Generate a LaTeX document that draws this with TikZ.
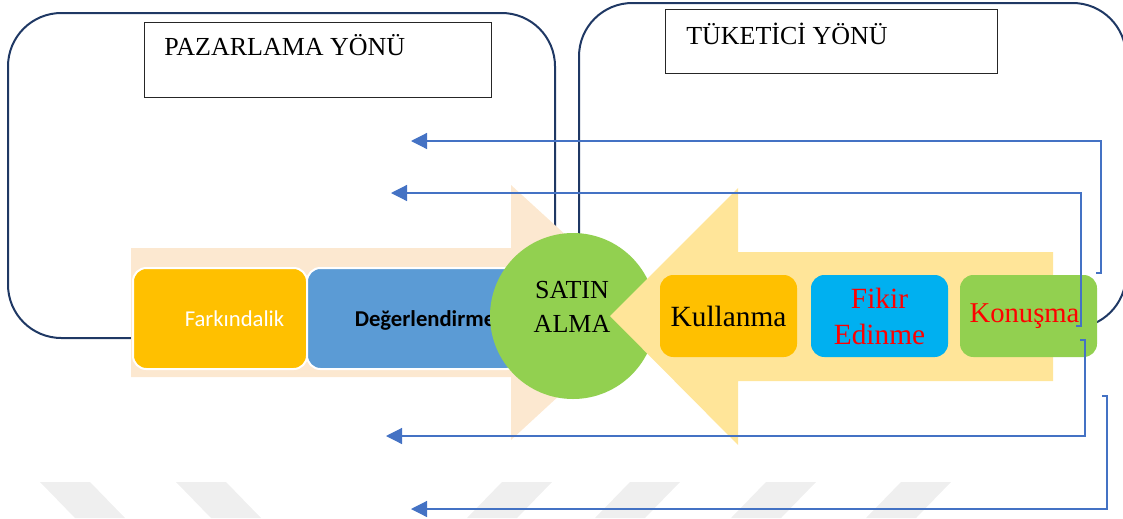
\documentclass[tikz,border=0pt]{standalone}
\usepackage{fontspec}
\setmainfont{Liberation Serif}
\newfontfamily\calibrifont{Carlito}
\usetikzlibrary{arrows.meta}

\definecolor{navyline}{RGB}{31,56,100}
\definecolor{peach}{RGB}{252,232,208}
\definecolor{lightyellow}{RGB}{255,229,153}
\definecolor{goldbox}{RGB}{255,192,0}
\definecolor{steelbox}{RGB}{91,155,213}
\definecolor{cyanbox}{RGB}{0,176,240}
\definecolor{greenbox}{RGB}{146,208,80}
\definecolor{fbblue}{RGB}{68,114,196}
\definecolor{wmgray}{RGB}{239,239,239}

\begin{document}
\begin{tikzpicture}[x=0.75pt, y=-0.75pt,
    sidebox/.style={draw=navyline, line width=1.5pt, rounded corners=40pt, minimum width=410.25pt, minimum height=243.75pt, inner sep=0pt},
    namebox/.style={draw=black!85, fill=white, line width=0.75pt, inner sep=0pt},
    nametext/.style={anchor=base west, inner sep=0pt, font=\fontsize{19.5}{23}\selectfont},
    stagebox/.style={draw=white, line width=1.5pt, rounded corners=10pt, minimum height=75.75pt, inner sep=0pt},
    stagetext/.style={anchor=base, inner sep=0pt, font=\calibrifont\fontsize{17}{20}\selectfont},
    stepbox/.style={rounded corners=10pt, minimum width=102.75pt, minimum height=61.5pt, inner sep=0pt, align=center, font=\fontsize{22}{27}\selectfont},
    fbarrow/.style={draw=fbblue, line width=0.9pt, -{Triangle[length=12pt, width=12pt]}},
    wmark/.style={fill=wmgray}
]
    \useasboundingbox (0,0) rectangle (1123,518);

    % Faint stripes at the bottom
    \foreach \wx in {40,176}
        \fill[wmark] (\wx,482) -- ++(50,0) -- ++(35,36) -- ++(-50,0) -- cycle;
    \foreach \wx in {502,630,766,901}
        \fill[wmark] (\wx,482) -- ++(50,0) -- ++(-35,36) -- ++(-50,0) -- cycle;

    % Two large frames
    \node[sidebox] (pazside) at (281.5,175.5) {};
    \node[sidebox] (tukside) at (852.5,165.5) {};

    % Arrow to the right (marketing side)
    \fill[peach] (131,248) -- (511,248) -- (511,185) -- (650,312) -- (511,440) -- (511,377) -- (131,377) -- cycle;
    \node[stagebox, fill=goldbox, minimum width=130.5pt] (fark) at (220,318.5) {};
    \node[stagebox, fill=steelbox, minimum width=159.75pt] (deger) at (413.5,318.5) {};
    \node[stagetext, text=white] (farktext) at (234.5,326) {Farkındalik};
    \node[stagetext, font=\calibrifont\bfseries\fontsize{17}{20}\selectfont] (degertext) at (425,326) {Değerlendirme};

    % Purchase in the middle
    \node[circle, fill=greenbox, minimum size=124.5pt, inner sep=0pt] (satin) at (573,316) {};
    \node[align=center, inner sep=0pt, font=\fontsize{19.5}{25.5}\selectfont] (satintext) at (572,307) {SATIN\\ALMA};

    % Arrow to the left (consumer side)
    \fill[lightyellow] (1053,252) -- (738,252) -- (738,188) -- (610,316) -- (738,445) -- (738,381) -- (1053,381) -- cycle;
    \node[stepbox, fill=goldbox] (kullan) at (728.5,316) {Kullanma};
    \node[stepbox, fill=cyanbox, text=red] (fikir) at (879.5,316) {Fikir\\Edinme};
    \node[stepbox, fill=greenbox, text=red, font=\fontsize{21.5}{26}\selectfont] (konus) at (1028.5,316) {Konuşma\hspace{6pt}};

    % Titles
    \node[namebox, minimum width=260.25pt, minimum height=56.25pt] (pazname) at (317.5,59.5) {};
    \node[nametext] (paztext) at (164,55) {PAZARLAMA YÖNÜ};
    \node[namebox, minimum width=249pt, minimum height=48pt] (tukname) at (831,41) {};
    \node[nametext] (tuktext) at (686,44) {TÜKETİCİ YÖNÜ};

    % Feedback lines
    \foreach \i/\sx/\sy/\ex/\ey in {1/1096/273/411/141, 2/1076/326/391/193, 3/1080/340/386/436, 4/1102/396/411/509} {
        \coordinate (fbs\i) at (\sx,\sy);
        \coordinate (fbe\i) at (\ex,\ey);
        \draw[fbarrow] (fbs\i) -- ++(5,0) |- (fbe\i);
    }
\end{tikzpicture}
\end{document}
